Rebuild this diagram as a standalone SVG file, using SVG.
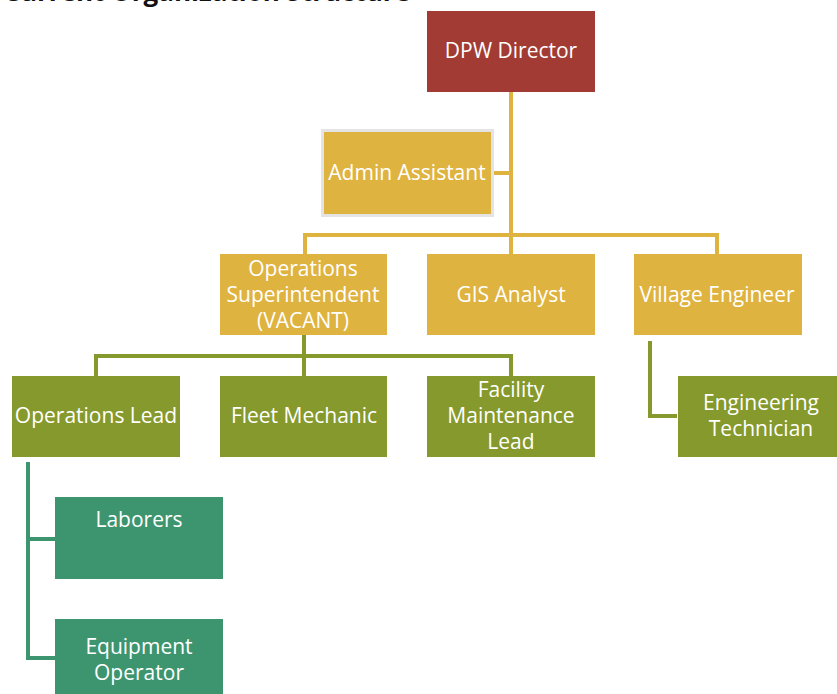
<svg xmlns="http://www.w3.org/2000/svg" width="837" height="694" viewBox="0 0 837 694">
  <style>
    .lbl { font-family: "Open Sans", "Noto Sans", "DejaVu Sans", sans-serif; font-size: 21px; fill: #ffffff; text-anchor: middle; }
    .title { font-family: "Open Sans", "Liberation Sans", sans-serif; font-size: 26px; font-weight: bold; fill: #111111; text-anchor: end; }
    .red { fill: #A23B33; }
    .gold { fill: #DFB33F; }
    .olive { fill: #86992C; }
    .teal { fill: #3D9570; }
    .c-gold { stroke: #DFB33F; stroke-width: 4; fill: none; }
    .c-olive { stroke: #86992C; stroke-width: 4; fill: none; }
    .c-teal { stroke: #3D9570; stroke-width: 4; fill: none; }
  </style>

  <rect width="837" height="694" fill="#ffffff"/>

  <!-- page heading, mostly above the top edge -->
  <text class="title" x="410" y="1">Current Organization Structure</text>

  <!-- connectors -->
  <g id="connectors">
    <path class="c-gold" d="M511 92 V254"/>
    <path class="c-gold" d="M493 173 H511"/>
    <path class="c-gold" d="M305 254 V235 H717 V254"/>
    <path class="c-olive" d="M304 335 V356"/>
    <path class="c-olive" d="M96 376 V356 H511 V376"/>
    <path class="c-olive" d="M304 356 V376"/>
    <path class="c-olive" d="M650 341 V416 H677"/>
    <path class="c-teal" d="M28 462 V658 H55"/>
    <path class="c-teal" d="M28 539 H55"/>
  </g>

  <g id="dpw-director">
    <rect class="red" x="427" y="11" width="168" height="81"/>
    <text class="lbl" x="511" y="58">DPW Director</text>
  </g>

  <g id="admin-assistant">
    <rect x="321" y="129" width="173" height="88" fill="#E4E4E4"/>
    <rect class="gold" x="324" y="132" width="167" height="82"/>
    <text class="lbl" x="407" y="180">Admin Assistant</text>
  </g>

  <g id="operations-superintendent">
    <rect class="gold" x="220" y="254" width="167" height="81"/>
    <text class="lbl" x="303" y="276">Operations</text>
    <text class="lbl" x="303" y="302">Superintendent</text>
    <text class="lbl" x="303" y="328">(VACANT)</text>
  </g>

  <g id="gis-analyst">
    <rect class="gold" x="427" y="254" width="168" height="81"/>
    <text class="lbl" x="511" y="302">GIS Analyst</text>
  </g>

  <g id="village-engineer">
    <rect class="gold" x="634" y="254" width="168" height="81"/>
    <text class="lbl" x="717" y="302">Village Engineer</text>
  </g>

  <g id="operations-lead">
    <rect class="olive" x="12" y="376" width="168" height="81"/>
    <text class="lbl" x="96" y="423">Operations Lead</text>
  </g>

  <g id="fleet-mechanic">
    <rect class="olive" x="220" y="376" width="167" height="81"/>
    <text class="lbl" x="304" y="423">Fleet Mechanic</text>
  </g>

  <g id="facility-maintenance-lead">
    <rect class="olive" x="427" y="376" width="168" height="81"/>
    <text class="lbl" x="511" y="397">Facility</text>
    <text class="lbl" x="511" y="423">Maintenance</text>
    <text class="lbl" x="511" y="449">Lead</text>
  </g>

  <g id="engineering-technician">
    <rect class="olive" x="678" y="376" width="159" height="81"/>
    <text class="lbl" x="761" y="410">Engineering</text>
    <text class="lbl" x="761" y="436">Technician</text>
  </g>

  <g id="laborers">
    <rect class="teal" x="55" y="497" width="168" height="82"/>
    <text class="lbl" x="139" y="527">Laborers</text>
  </g>

  <g id="equipment-operator">
    <rect class="teal" x="55" y="619" width="168" height="80"/>
    <text class="lbl" x="139" y="654">Equipment</text>
    <text class="lbl" x="139" y="680">Operator</text>
  </g>
</svg>
